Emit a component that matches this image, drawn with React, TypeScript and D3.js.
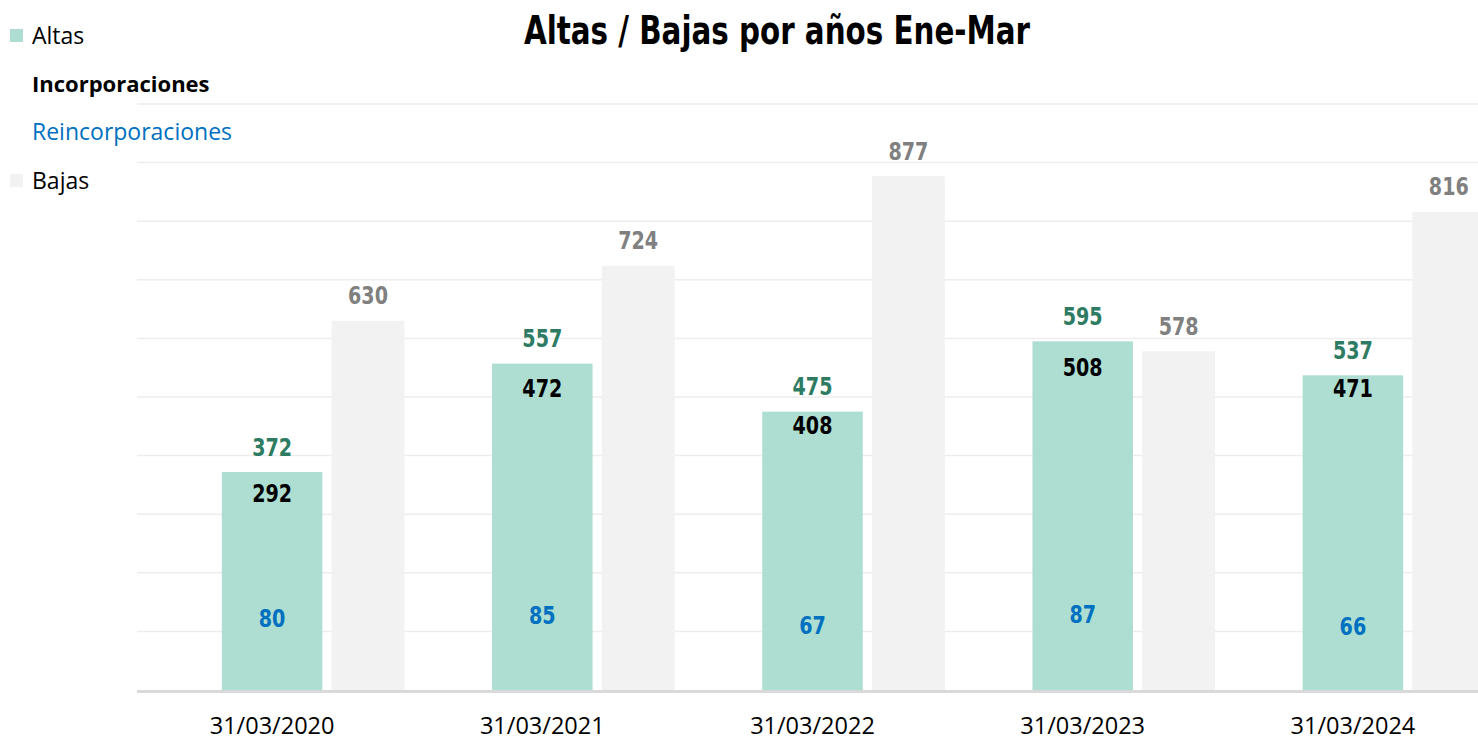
import React from "react";
import * as d3 from "d3";

const categories = ["31/03/2020", "31/03/2021", "31/03/2022", "31/03/2023", "31/03/2024"];
const altas = [372, 557, 475, 595, 537];
const incorporaciones = [292, 472, 408, 508, 471];
const reincorporaciones = [80, 85, 67, 87, 66];
const bajas = [630, 724, 877, 578, 816];
const yTicks = [0, 100, 200, 300, 400, 500, 600, 700, 800, 900, 1000];

const W = 1478;
const H = 743;
const LABEL_FONT = "'Liberation Sans Narrow', 'DejaVu Sans Condensed', 'Arial Narrow', sans-serif";
const TEXT_FONT = "'Open Sans', 'Noto Sans', sans-serif";

export default function App() {
  const x = d3.scaleBand<string>().domain(categories).range([137, 1488]);
  const y = d3.scaleLinear().domain([0, 1000]).range([690, 104]);
  const bw = x.bandwidth();
  const greenW = bw * 0.372;
  const greyW = bw * 0.27;
  const greyOff = bw * 0.22;
  const cx = (c: string) => (x(c) as number) + bw / 2;

  const label = (v: number, xc: number, color: string, key: string) => (
    <text
      key={key}
      x={xc}
      y={y(v) - 25}
      textAnchor="middle"
      dominantBaseline="central"
      fontFamily={LABEL_FONT}
      fontWeight="bold"
      fontSize={25}
      textLength={String(v).length * 13.3}
      lengthAdjust="spacingAndGlyphs"
      fill={color}
    >
      {v}
    </text>
  );

  return (
    <svg
      width={W}
      height={H}
      style={{ position: "fixed", left: 0, top: 0, background: "#fff" }}
    >
      <rect x={0} y={0} width={W} height={H} fill="#fff" />
      {yTicks.filter((t) => t > 0).map((t) => (
        <line key={t} x1={137} x2={W} y1={y(t)} y2={y(t)} stroke="#EDEDED" strokeWidth={1.5} />
      ))}
      {categories.map((c, i) => (
        <g key={c}>
          <rect x={cx(c) - greenW / 2} y={y(altas[i])} width={greenW} height={y(0) - y(altas[i])} fill="#ADDED1" />
          <rect x={cx(c) + greyOff} y={y(bajas[i])} width={greyW} height={y(0) - y(bajas[i])} fill="#F2F2F2" />
        </g>
      ))}
      <line x1={137} x2={W} y1={y(0) + 1.5} y2={y(0) + 1.5} stroke="#D9D9D9" strokeWidth={3} />
      {categories.map((c, i) => (
        <g key={"l" + c}>
          {label(altas[i], cx(c), "#2E7B63", "a")}
          {label(incorporaciones[i], cx(c), "#000000", "i")}
          {label(reincorporaciones[i], cx(c), "#0070C0", "r")}
          {label(bajas[i], cx(c) + greyOff + greyW / 2, "#808080", "b")}
          <text x={cx(c)} y={725} textAnchor="middle" dominantBaseline="central" fontFamily={TEXT_FONT} fontSize={23.5} fill="#000">
            {c}
          </text>
        </g>
      ))}
      <text
        x={777}
        y={30}
        textAnchor="middle"
        dominantBaseline="central"
        fontFamily={LABEL_FONT}
        fontWeight="bold"
        fontSize={39}
        textLength={506}
        lengthAdjust="spacingAndGlyphs"
        fill="#000"
      >
        Altas / Bajas por años Ene-Mar
      </text>
      <g fontFamily={TEXT_FONT} fontSize={23}>
        <rect x={10} y={29} width={13} height={13} fill="#ADDED1" />
        <text x={32} y={35} dominantBaseline="central" fill="#000">Altas</text>
        <text x={32} y={83} dominantBaseline="central" fill="#000" fontWeight="bold" fontSize={22}>Incorporaciones</text>
        <text x={32} y={131} dominantBaseline="central" fill="#0070C0">Reincorporaciones</text>
        <rect x={10} y={174} width={13} height={13} fill="#F2F2F2" />
        <text x={32} y={180} dominantBaseline="central" fill="#000">Bajas</text>
      </g>
    </svg>
  );
}
